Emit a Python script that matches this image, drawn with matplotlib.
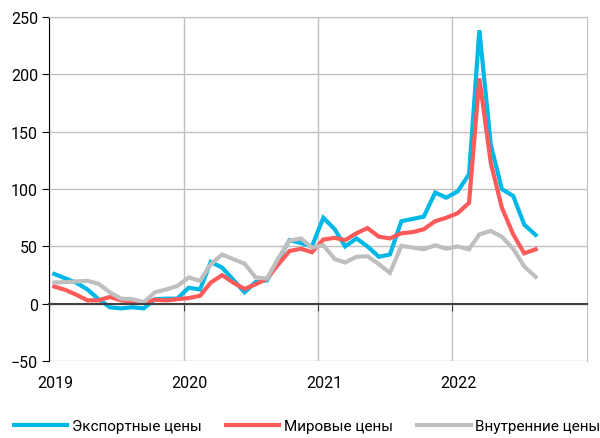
import numpy as np
import pandas as pd
import matplotlib
matplotlib.use('Agg')
import matplotlib.pyplot as plt
import matplotlib.dates as mdates
import matplotlib.transforms as mtransforms

plt.rcParams['font.family'] = ['Roboto', 'DejaVu Sans']

# monthly points, Jan 2019 - Aug 2022 (plotted mid-month)
months = pd.date_range('2019-01-01', periods=44, freq='MS') + pd.Timedelta(days=14)

export_prices = [26, 22, 18.5, 12.5, 4, -3, -4, -3, -4, 4, 4.5, 4.5,
                 14, 12.5, 36.5, 31.5, 21, 10, 19, 20.5, 38.5, 55.5, 53, 50,
                 75, 65, 50, 57, 50, 41, 43, 72, 74, 76, 97, 92.5,
                 98, 113, 238.5, 139, 100, 94, 69, 60]
world_prices = [15, 12, 8, 3, 3, 6, 3, 2, 1, 3.5, 3, 4,
                5, 7, 18.5, 25, 18.5, 13, 17, 22, 34.5, 46, 48, 45,
                56, 57.5, 55.5, 61.5, 66, 58.5, 57, 61.5, 62.5, 65, 72, 75,
                79, 88, 196.5, 123, 84, 60.5, 44, 47.5]
domestic_prices = [18.5, 19, 19.5, 20, 17.5, 10, 4.5, 4, 1.5, 10, 12.5, 15.5,
                   23, 20, 34.5, 43, 39, 35, 23, 22, 40, 55, 57, 49,
                   51, 39, 36, 41, 41.5, 34.5, 27, 50.5, 49, 47.5, 51, 48,
                   50, 47.5, 60.5, 63.5, 58.5, 48, 32.5, 23.5]

labels = ['Экспортные цены', 'Мировые цены', 'Внутренние цены']
colors = ['#00b8e6', '#ff5a5a', '#bfbfbf']
years = ['2019', '2020', '2021', '2022']

fig = plt.figure(figsize=(6, 4.39), dpi=100)
ax = fig.add_axes([0.082, 0.175, 0.896, 0.784])

for vals, lab, c in zip([export_prices, world_prices, domestic_prices], labels, colors):
    ax.plot(months, vals, color=c, lw=3, label=lab, solid_joinstyle='miter')

ax.set_ylim(-50, 250)
ax.set_yticks(np.arange(-50, 251, 50))
ax.set_xlim(pd.Timestamp('2019-01-01'), pd.Timestamp('2023-01-01'))
year_dates = [pd.Timestamp(y + '-01-01') for y in years]
ax.set_xticks(year_dates)
ax.xaxis.set_major_formatter(mdates.DateFormatter('%Y'))

ax.grid(True, color='#c0c0c0', lw=1)
ax.set_axisbelow(True)

ax.spines['bottom'].set_position(('data', 0))
ax.spines['bottom'].set_color('#404040')
ax.spines['bottom'].set_linewidth(1.5)
ax.spines['left'].set_color('black')
ax.spines['right'].set_color('#c0c0c0')
ax.spines['top'].set_color('#c0c0c0')

ax.tick_params(axis='x', direction='out', length=5, color='#404040', labelbottom=False)
ax.tick_params(axis='y', direction='out', length=5, labelsize=11.5, pad=3)

# year labels under the plot
trans = mtransforms.blended_transform_factory(ax.transData, ax.transAxes)
trans = mtransforms.offset_copy(trans, fig=fig, x=6, y=0, units='dots')
for d, y in zip(year_dates, years):
    ax.text(d, -0.062, y, transform=trans, ha='center', va='center', fontsize=11.5)

fig.legend(loc='lower center', bbox_to_anchor=(0.512, -0.02), ncol=3, frameon=False,
           fontsize=11, handlelength=3.5, handletextpad=0.3, columnspacing=1.6)

fig.savefig('out.png', dpi=100)
